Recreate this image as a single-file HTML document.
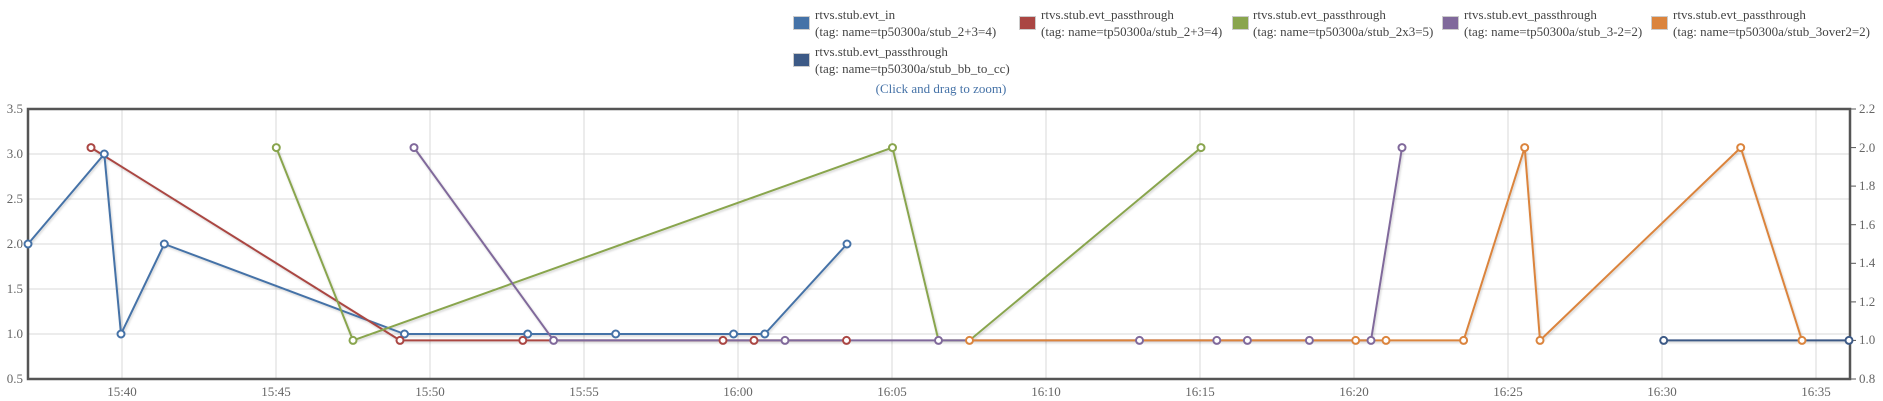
<!DOCTYPE html>
<html><head><meta charset="utf-8"><style>
html,body{margin:0;padding:0;background:#fff;}
svg{display:block;font-family:"Liberation Serif",serif;}
</style></head><body>
<svg width="1883" height="401" viewBox="0 0 1883 401" xmlns="http://www.w3.org/2000/svg">
<defs>
<filter id="sh" x="-5%" y="-5%" width="110%" height="120%"><feDropShadow dx="1" dy="1.5" stdDeviation="1" flood-color="#000" flood-opacity="0.18"/></filter>
</defs>
<!-- legend -->
<g font-size="13" fill="#444">
<rect x="793.5" y="16.5" width="16" height="13" fill="#4572A7" stroke="#ccc"/>
<text x="815" y="19">rtvs.stub.evt_in</text><text x="815" y="36">(tag: name=tp50300a/stub_2+3=4)</text>
<rect x="1019.5" y="16.5" width="16" height="13" fill="#AA4643" stroke="#ccc"/>
<text x="1041" y="19">rtvs.stub.evt_passthrough</text><text x="1041" y="36">(tag: name=tp50300a/stub_2+3=4)</text>
<rect x="1232.5" y="16.5" width="16" height="13" fill="#89A54E" stroke="#ccc"/>
<text x="1253" y="19">rtvs.stub.evt_passthrough</text><text x="1253" y="36">(tag: name=tp50300a/stub_2x3=5)</text>
<rect x="1442.5" y="16.5" width="16" height="13" fill="#80699B" stroke="#ccc"/>
<text x="1464" y="19">rtvs.stub.evt_passthrough</text><text x="1464" y="36">(tag: name=tp50300a/stub_3-2=2)</text>
<rect x="1651.5" y="16.5" width="16" height="13" fill="#DB843D" stroke="#ccc"/>
<text x="1673" y="19">rtvs.stub.evt_passthrough</text><text x="1673" y="36">(tag: name=tp50300a/stub_3over2=2)</text>
<rect x="793.5" y="53.5" width="16" height="13" fill="#3D5A86" stroke="#ccc"/>
<text x="815" y="56">rtvs.stub.evt_passthrough</text><text x="815" y="73">(tag: name=tp50300a/stub_bb_to_cc)</text>
</g>
<text x="941" y="93" font-size="13" fill="#4572A7" text-anchor="middle">(Click and drag to zoom)</text>
<!-- grid -->
<g stroke="#d8d8d8" stroke-width="1">
<line x1="28" x2="1850" y1="154" y2="154"/><line x1="28" x2="1850" y1="199" y2="199"/>
<line x1="28" x2="1850" y1="244" y2="244"/><line x1="28" x2="1850" y1="289" y2="289"/>
<line x1="28" x2="1850" y1="334" y2="334"/>
<line x1="122" x2="122" y1="109" y2="379"/><line x1="276" x2="276" y1="109" y2="379"/>
<line x1="430" x2="430" y1="109" y2="379"/><line x1="584" x2="584" y1="109" y2="379"/>
<line x1="738" x2="738" y1="109" y2="379"/><line x1="892" x2="892" y1="109" y2="379"/>
<line x1="1046" x2="1046" y1="109" y2="379"/><line x1="1200" x2="1200" y1="109" y2="379"/>
<line x1="1354" x2="1354" y1="109" y2="379"/><line x1="1508" x2="1508" y1="109" y2="379"/>
<line x1="1662" x2="1662" y1="109" y2="379"/><line x1="1816" x2="1816" y1="109" y2="379"/>
</g>
<!-- right ticks -->
<g stroke="#555" stroke-width="1">
<line x1="1850" x2="1856" y1="109" y2="109"/><line x1="1850" x2="1856" y1="147.6" y2="147.6"/>
<line x1="1850" x2="1856" y1="186.1" y2="186.1"/><line x1="1850" x2="1856" y1="224.7" y2="224.7"/>
<line x1="1850" x2="1856" y1="263.3" y2="263.3"/><line x1="1850" x2="1856" y1="301.9" y2="301.9"/>
<line x1="1850" x2="1856" y1="340.4" y2="340.4"/><line x1="1850" x2="1856" y1="379" y2="379"/>
</g>
<rect x="28" y="109" width="1822" height="270" fill="none" stroke="#555" stroke-width="2.5"/>
<!-- axis labels -->
<g font-size="13" fill="#666" text-anchor="end">
<text x="23" y="113">3.5</text><text x="23" y="158">3.0</text><text x="23" y="203">2.5</text>
<text x="23" y="248">2.0</text><text x="23" y="293">1.5</text><text x="23" y="338">1.0</text><text x="23" y="383">0.5</text>
</g>
<g font-size="13" fill="#666">
<text x="1859" y="113">2.2</text><text x="1859" y="152">2.0</text><text x="1859" y="190">1.8</text>
<text x="1859" y="229">1.6</text><text x="1859" y="267">1.4</text><text x="1859" y="306">1.2</text>
<text x="1859" y="344">1.0</text><text x="1859" y="383">0.8</text>
</g>
<g font-size="13" fill="#666" text-anchor="middle">
<text x="122" y="396">15:40</text><text x="276" y="396">15:45</text><text x="430" y="396">15:50</text>
<text x="584" y="396">15:55</text><text x="738" y="396">16:00</text><text x="892" y="396">16:05</text>
<text x="1046" y="396">16:10</text><text x="1200" y="396">16:15</text><text x="1354" y="396">16:20</text>
<text x="1508" y="396">16:25</text><text x="1662" y="396">16:30</text><text x="1816" y="396">16:35</text>
</g>
<!-- series -->
<g fill="none" stroke-width="2" stroke-linejoin="round" filter="url(#sh)">
<polyline stroke="#4572A7" points="28,244 104.3,154 121,334 164.3,244 404.5,334 527.7,334 615.7,334 733.6,334 764.8,334 847,244"/>
<polyline stroke="#AA4643" points="91,147.6 400,340.4 522.8,340.4 723,340.4 754,340.4 846.5,340.4"/>
<polyline stroke="#89A54E" points="276.3,147.6 353,340.4 892.5,147.6 938.5,340.4 969.5,340.4 1201,147.6"/>
<polyline stroke="#80699B" points="414,147.6 553.6,340.4 785,340.4 938.5,340.4 1139.5,340.4 1216.8,340.4 1247.4,340.4 1309.4,340.4 1371,340.4 1402,147.6"/>
<polyline stroke="#DB843D" points="969.5,340.4 1355.7,340.4 1386,340.4 1463.6,340.4 1524.7,147.6 1540,340.4 1740.7,147.6 1802,340.4"/>
<polyline stroke="#3D5A86" points="1663.7,340.4 1849,340.4"/>
</g>
<!-- markers -->
<g fill="#fff" stroke-width="2">
<g stroke="#4572A7">
<circle cx="28" cy="244" r="3.5"/><circle cx="104.3" cy="154" r="3.5"/><circle cx="121" cy="334" r="3.5"/><circle cx="164.3" cy="244" r="3.5"/><circle cx="404.5" cy="334" r="3.5"/><circle cx="527.7" cy="334" r="3.5"/><circle cx="615.7" cy="334" r="3.5"/><circle cx="733.6" cy="334" r="3.5"/><circle cx="764.8" cy="334" r="3.5"/><circle cx="847" cy="244" r="3.5"/>
</g>
<g stroke="#AA4643">
<circle cx="91" cy="147.6" r="3.5"/><circle cx="400" cy="340.4" r="3.5"/><circle cx="522.8" cy="340.4" r="3.5"/><circle cx="723" cy="340.4" r="3.5"/><circle cx="754" cy="340.4" r="3.5"/><circle cx="846.5" cy="340.4" r="3.5"/>
</g>
<g stroke="#89A54E">
<circle cx="276.3" cy="147.6" r="3.5"/><circle cx="353" cy="340.4" r="3.5"/><circle cx="892.5" cy="147.6" r="3.5"/><circle cx="1201" cy="147.6" r="3.5"/>
</g>
<g stroke="#80699B">
<circle cx="414" cy="147.6" r="3.5"/><circle cx="553.6" cy="340.4" r="3.5"/><circle cx="785" cy="340.4" r="3.5"/><circle cx="938.5" cy="340.4" r="3.5"/><circle cx="1139.5" cy="340.4" r="3.5"/><circle cx="1216.8" cy="340.4" r="3.5"/><circle cx="1247.4" cy="340.4" r="3.5"/><circle cx="1309.4" cy="340.4" r="3.5"/><circle cx="1371" cy="340.4" r="3.5"/><circle cx="1402" cy="147.6" r="3.5"/>
</g>
<g stroke="#DB843D">
<circle cx="969.5" cy="340.4" r="3.5"/><circle cx="1355.7" cy="340.4" r="3.5"/><circle cx="1386" cy="340.4" r="3.5"/><circle cx="1463.6" cy="340.4" r="3.5"/><circle cx="1524.7" cy="147.6" r="3.5"/><circle cx="1540" cy="340.4" r="3.5"/><circle cx="1740.7" cy="147.6" r="3.5"/><circle cx="1802" cy="340.4" r="3.5"/>
</g>
<g stroke="#3D5A86">
<circle cx="1663.7" cy="340.4" r="3.5"/><circle cx="1849" cy="340.4" r="3.5"/>
</g>
</g>
</svg>
</body></html>
